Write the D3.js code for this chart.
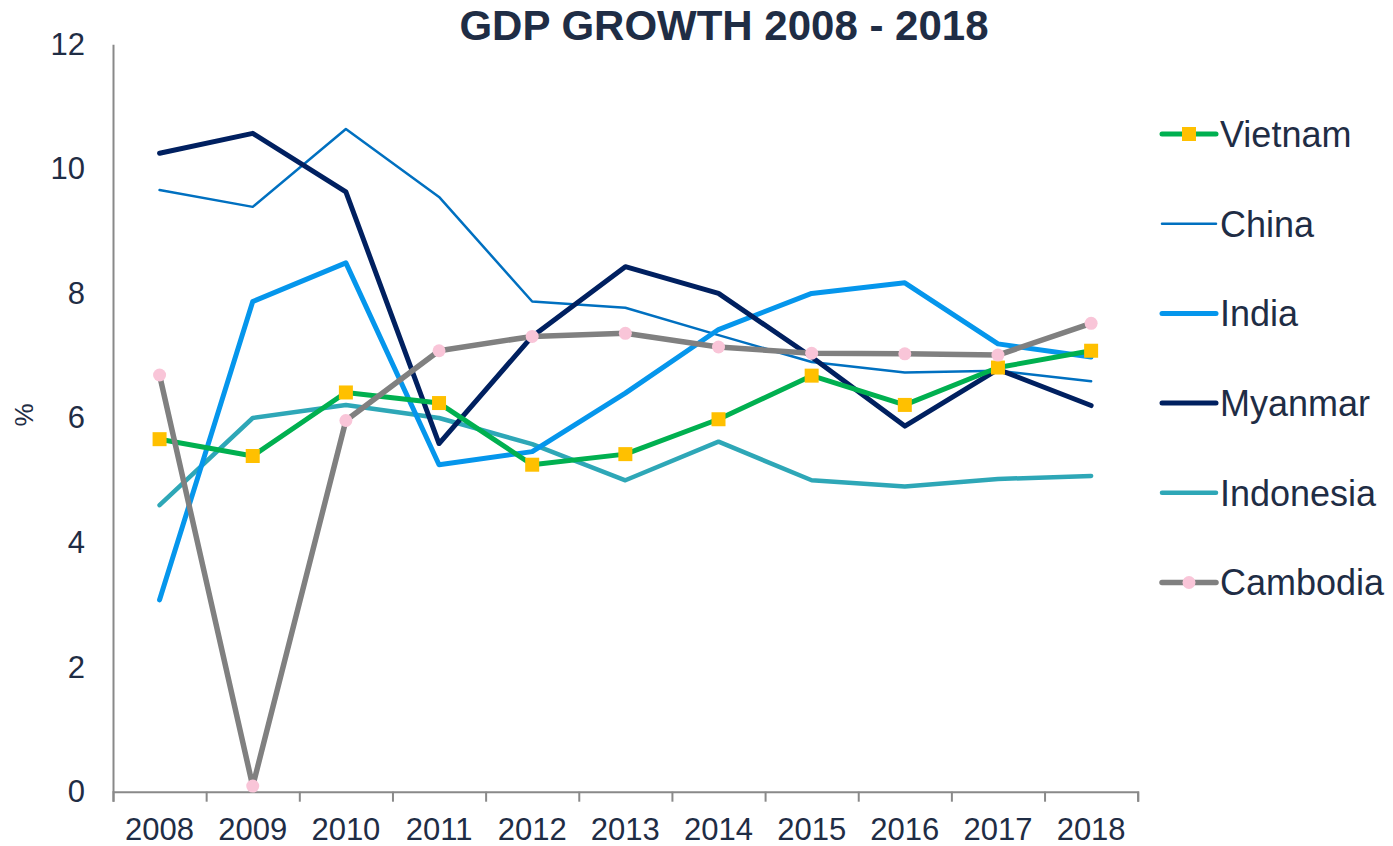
<!DOCTYPE html>
<html>
<head>
<meta charset="utf-8">
<script src="https://cdn.jsdelivr.net/npm/d3@7"></script>
<style>
  body { margin: 0; background: #fff; }
  svg { display: block; font-family: "Liberation Sans", Arial, sans-serif; }
</style>
</head>
<body>
<svg class="chart" width="1393" height="846"></svg>
<script>
var years = ["2008", "2009", "2010", "2011", "2012", "2013", "2014", "2015", "2016", "2017", "2018"];
var yTicks = [0, 2, 4, 6, 8, 10, 12];

var vietnam   = [5.66, 5.39, 6.41, 6.24, 5.25, 5.42, 5.98, 6.68, 6.21, 6.81, 7.08];
var china     = [9.66, 9.39, 10.64, 9.55, 7.87, 7.77, 7.33, 6.90, 6.73, 6.76, 6.59];
var india     = [3.08, 7.87, 8.49, 5.25, 5.46, 6.40, 7.42, 8.00, 8.17, 7.19, 6.98];
var myanmar   = [10.25, 10.57, 9.63, 5.59, 7.31, 8.43, 8.00, 6.98, 5.87, 6.78, 6.20];
var indonesia = [4.60, 6.00, 6.21, 6.00, 5.58, 5.00, 5.62, 5.00, 4.90, 5.02, 5.07];
var cambodia  = [6.69, 0.09, 5.96, 7.08, 7.31, 7.36, 7.14, 7.04, 7.03, 7.01, 7.52];

var seriesNames = ["Vietnam", "China", "India", "Myanmar", "Indonesia", "Cambodia"];

// styling per series (kept apart from the data)
var styles = {
  "Vietnam":   { color: "#00b050", width: 5,   marker: "square", fill: "#ffc000" },
  "China":     { color: "#0070c0", width: 2.5 },
  "India":     { color: "#0596ec", width: 5 },
  "Myanmar":   { color: "#002060", width: 5 },
  "Indonesia": { color: "#2ea7b7", width: 4.5 },
  "Cambodia":  { color: "#808080", width: 5.5, marker: "circle", fill: "#f9c5d8" }
};

var series = [vietnam, china, india, myanmar, indonesia, cambodia].map(function(vals, i) {
  return { name: seriesNames[i], values: vals };
});

var textColor = "#1f2d45",
    axisColor = "#898989";

var margin = { left: 113, top: 44.3, right: 1137.7, bottom: 791.7 };

var svg = d3.select("svg.chart");

var x = d3.scaleBand()
  .domain(years)
  .range([margin.left, margin.right]);

var y = d3.scaleLinear()
  .domain([0, 12])
  .range([margin.bottom, margin.top]);

// title
svg.append("text")
  .attr("x", 724)
  .attr("y", 40)
  .attr("text-anchor", "middle")
  .style("font-size", "42px")
  .style("font-weight", "bold")
  .style("fill", textColor)
  .text("GDP GROWTH 2008 - 2018");

// y axis
var yAxis = svg.append("g")
  .attr("transform", "translate(" + margin.left + ",0)")
  .call(d3.axisLeft(y).tickValues(yTicks).tickSize(0).tickPadding(28));
yAxis.select(".domain").attr("stroke", axisColor).attr("stroke-width", 2);
yAxis.selectAll("text")
  .style("font-size", "31px")
  .style("fill", textColor)
  .style("font-family", "Liberation Sans, Arial, sans-serif");

svg.append("text")
  .attr("transform", "translate(33,415) rotate(-90)")
  .attr("text-anchor", "middle")
  .style("font-size", "26px")
  .style("fill", textColor)
  .text("%");

// x axis: boundary ticks and centred labels
var xEdges = d3.scaleLinear().domain([0, years.length]).range([margin.left, margin.right]);
var xTicks = svg.append("g")
  .attr("transform", "translate(0," + margin.bottom + ")")
  .call(d3.axisBottom(xEdges).ticks(years.length).tickSize(10).tickFormat(""));
xTicks.select(".domain").attr("stroke", axisColor).attr("stroke-width", 2);
xTicks.selectAll(".tick line").attr("stroke", axisColor).attr("stroke-width", 2);

var xLabels = svg.append("g")
  .attr("transform", "translate(0," + margin.bottom + ")")
  .call(d3.axisBottom(x).tickSize(0).tickPadding(26));
xLabels.select(".domain").remove();
xLabels.selectAll("text")
  .style("font-size", "31px")
  .style("fill", textColor)
  .style("font-family", "Liberation Sans, Arial, sans-serif");

// lines
var line = d3.line()
  .x(function(d, i) { return x(years[i]) + x.bandwidth() / 2; })
  .y(function(d) { return y(d); });

// draw order: later series on top (Cambodia drawn last)
var drawOrder = ["China", "Indonesia", "India", "Myanmar", "Vietnam", "Cambodia"];
drawOrder.forEach(function(name) {
  var s = series.find(function(d) { return d.name === name; });
  var st = styles[name];
  svg.append("path")
    .datum(s.values)
    .attr("d", line)
    .attr("fill", "none")
    .attr("stroke", st.color)
    .attr("stroke-width", st.width)
    .attr("stroke-linejoin", "round")
    .attr("stroke-linecap", "round");

  if (st.marker === "square") {
    svg.selectAll(null)
      .data(s.values)
      .enter().append("rect")
      .attr("x", function(d, i) { return x(years[i]) + x.bandwidth() / 2 - 7; })
      .attr("y", function(d) { return y(d) - 7; })
      .attr("width", 14)
      .attr("height", 14)
      .attr("fill", st.fill);
  } else if (st.marker === "circle") {
    svg.selectAll(null)
      .data(s.values)
      .enter().append("circle")
      .attr("cx", function(d, i) { return x(years[i]) + x.bandwidth() / 2; })
      .attr("cy", function(d) { return y(d); })
      .attr("r", 6.5)
      .attr("fill", st.fill);
  }
});

// legend
var legend = svg.append("g").attr("transform", "translate(1160,134)");
var item = legend.selectAll("g.item")
  .data(series)
  .enter().append("g")
  .attr("class", "item")
  .attr("transform", function(d, i) { return "translate(0," + (i * 89.7) + ")"; });

item.append("line")
  .attr("x1", 2).attr("x2", 56)
  .attr("y1", 0).attr("y2", 0)
  .attr("stroke", function(d) { return styles[d.name].color; })
  .attr("stroke-width", function(d) { return styles[d.name].width; })
  .attr("stroke-linecap", "round");

item.filter(function(d) { return styles[d.name].marker === "square"; })
  .append("rect")
  .attr("x", 22).attr("y", -7)
  .attr("width", 14).attr("height", 14)
  .attr("fill", function(d) { return styles[d.name].fill; });

item.filter(function(d) { return styles[d.name].marker === "circle"; })
  .append("circle")
  .attr("cx", 29).attr("cy", 0).attr("r", 6.5)
  .attr("fill", function(d) { return styles[d.name].fill; });

item.append("text")
  .attr("x", 60)
  .attr("y", 0)
  .attr("dy", "0.36em")
  .style("font-size", "36px")
  .style("fill", textColor)
  .text(function(d) { return d.name; });
</script>
</body>
</html>
